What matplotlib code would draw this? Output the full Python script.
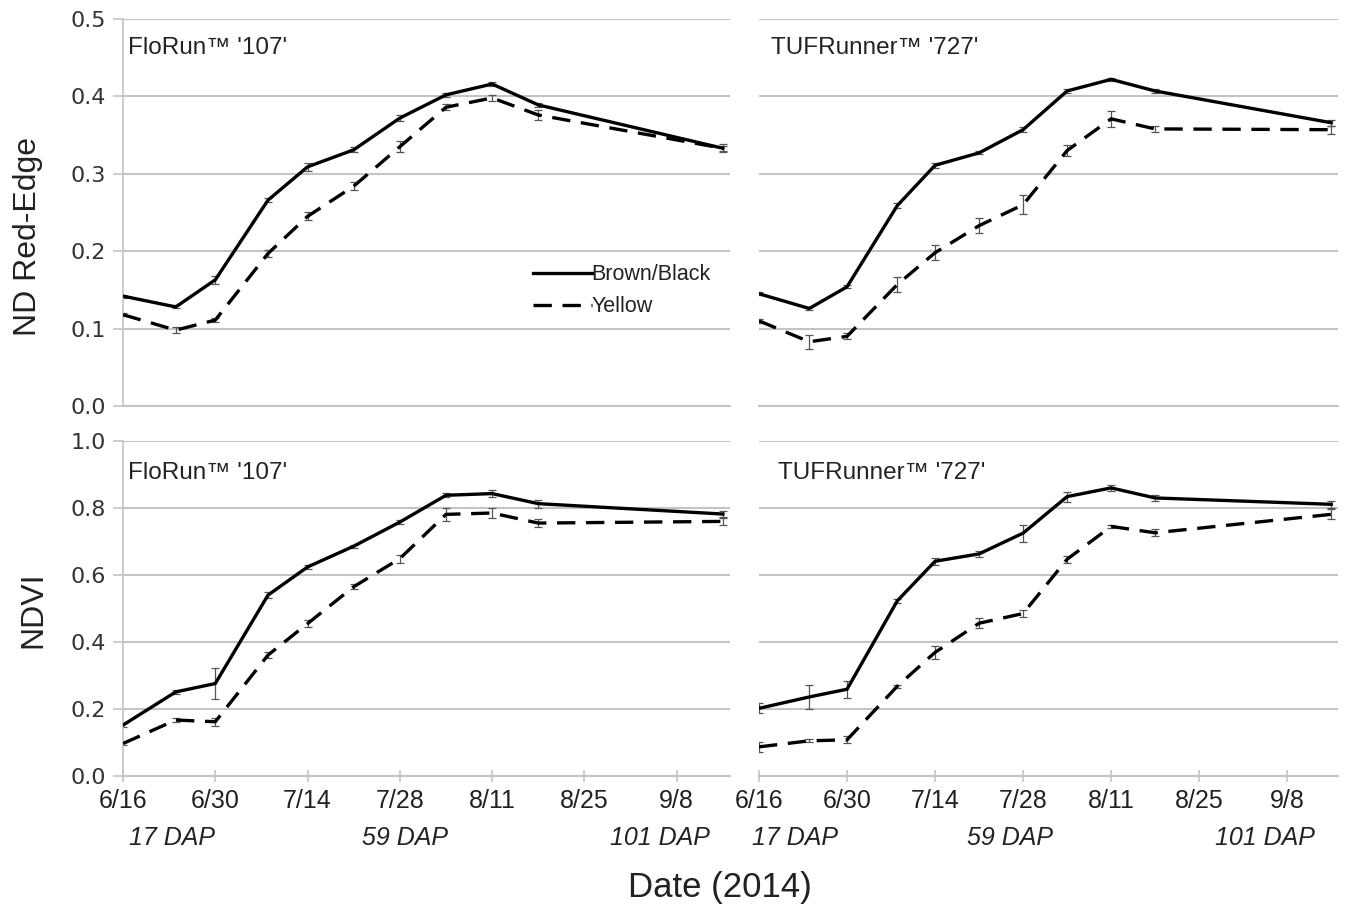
import numpy as np
import pandas as pd
import matplotlib
matplotlib.use('Agg')
import matplotlib.pyplot as plt
import matplotlib.dates as mdates
import matplotlib.transforms as mtransforms

plt.rcParams['font.family'] = ['Liberation Sans', 'DejaVu Sans']

dates = pd.to_datetime(['2014-06-16', '2014-06-24', '2014-06-30', '2014-07-08', '2014-07-14',
                        '2014-07-21', '2014-07-28', '2014-08-04', '2014-08-11', '2014-08-18',
                        '2014-09-15'])
tick_dates = pd.date_range('2014-06-16', periods=7, freq='14D')

# ND Red-Edge
re_107_bb = [0.142, 0.128, 0.163, 0.266, 0.309, 0.331, 0.372, 0.402, 0.416, 0.389, 0.333]
re_107_bb_err = [0.002, 0.002, 0.005, 0.003, 0.005, 0.003, 0.004, 0.003, 0.002, 0.003, 0.003]
re_107_y = [0.118, 0.098, 0.111, 0.197, 0.245, 0.284, 0.335, 0.386, 0.398, 0.376, 0.333]
re_107_y_err = [0.002, 0.004, 0.003, 0.005, 0.005, 0.005, 0.007, 0.004, 0.004, 0.006, 0.005]
re_727_bb = [0.145, 0.126, 0.154, 0.259, 0.311, 0.327, 0.357, 0.407, 0.422, 0.407, 0.366]
re_727_bb_err = [0.002, 0.002, 0.002, 0.003, 0.003, 0.002, 0.003, 0.003, 0.002, 0.002, 0.004]
re_727_y = [0.110, 0.083, 0.090, 0.157, 0.198, 0.233, 0.260, 0.330, 0.371, 0.358, 0.357]
re_727_y_err = [0.003, 0.009, 0.004, 0.010, 0.010, 0.010, 0.012, 0.007, 0.010, 0.004, 0.005]

# NDVI
nd_107_bb = [0.152, 0.251, 0.276, 0.540, 0.624, 0.686, 0.758, 0.838, 0.843, 0.813, 0.782]
nd_107_bb_err = [0.005, 0.005, 0.045, 0.008, 0.005, 0.005, 0.006, 0.006, 0.010, 0.012, 0.010]
nd_107_y = [0.097, 0.167, 0.162, 0.361, 0.455, 0.565, 0.649, 0.781, 0.785, 0.755, 0.760]
nd_107_y_err = [0.004, 0.005, 0.012, 0.008, 0.010, 0.008, 0.012, 0.020, 0.015, 0.012, 0.010]
nd_727_bb = [0.202, 0.236, 0.259, 0.523, 0.641, 0.663, 0.725, 0.834, 0.860, 0.830, 0.811]
nd_727_bb_err = [0.015, 0.035, 0.025, 0.006, 0.010, 0.010, 0.025, 0.015, 0.008, 0.010, 0.010]
nd_727_y = [0.087, 0.105, 0.108, 0.268, 0.369, 0.456, 0.485, 0.647, 0.745, 0.726, 0.781]
nd_727_y_err = [0.015, 0.004, 0.010, 0.005, 0.020, 0.015, 0.010, 0.010, 0.004, 0.010, 0.015]

dap_labels = ['17 DAP', '59 DAP', '101 DAP']
panels = [
    (re_107_bb, re_107_bb_err, re_107_y, re_107_y_err, "FloRun\u2122 '107'"),
    (re_727_bb, re_727_bb_err, re_727_y, re_727_y_err, "TUFRunner\u2122 '727'"),
    (nd_107_bb, nd_107_bb_err, nd_107_y, nd_107_y_err, "FloRun\u2122 '107'"),
    (nd_727_bb, nd_727_bb_err, nd_727_y, nd_727_y_err, "TUFRunner\u2122 '727'"),
]

fig = plt.figure(figsize=(13.5, 9.14), dpi=100)
W, H = 1350, 914


def px_axes(x0, x1, ytop, ybot):
    return fig.add_axes([x0 / W, 1 - ybot / H, (x1 - x0) / W, (ybot - ytop) / H])


axes = [px_axes(123, 730, 19, 406), px_axes(759, 1338, 19, 406),
        px_axes(123, 730, 441, 776), px_axes(759, 1338, 441, 776)]

grid_c = '#c4c4c4'
text_c = '#222222'
x0 = pd.Timestamp('2014-06-16')
x1 = pd.Timestamp('2014-09-16 02:00')
dap_days = [[7.5, 42.8, 81.5], [5.7, 39.9, 80.4]]
title_pos = [(0.008, 0.925), (0.02, 0.925), (0.008, 0.905), (0.032, 0.905)]

for i, (ax, (bb, bb_err, yl, yl_err, title)) in enumerate(zip(axes, panels)):
    top = i < 2
    left = i % 2 == 0
    ax.errorbar(dates, bb, yerr=bb_err, fmt='none', ecolor='#555555', elinewidth=0.9,
                capsize=3, capthick=0.9, zorder=2)
    ax.errorbar(dates, yl, yerr=yl_err, fmt='none', ecolor='#555555', elinewidth=0.9,
                capsize=3, capthick=0.9, zorder=2)
    ax.plot(dates, bb, color='black', lw=2.4, label='Brown/Black', zorder=3)
    ax.plot(dates, yl, color='black', lw=2.4, ls=(0, (5.5, 3.2)), label='Yellow', zorder=3)

    ymax = 0.5 if top else 1.0
    ax.set_ylim(0, ymax)
    ax.set_yticks(np.linspace(0, ymax, 6))
    ax.set_xlim(x0, x1)
    ax.set_xticks(tick_dates)
    ax.grid(axis='y', color=grid_c, lw=1.5)
    ax.set_axisbelow(True)
    for s in ['top', 'right']:
        ax.spines[s].set_visible(False)
    ax.spines['bottom'].set_color(grid_c)
    ax.spines['bottom'].set_linewidth(1.5)
    ax.spines['left'].set_color(grid_c)
    ax.spines['left'].set_linewidth(1.2)
    ax.tick_params(axis='x', direction='inout', length=8, color=grid_c, width=1.2,
                   labelsize=18, labelcolor=text_c, pad=5)
    ax.tick_params(axis='y', direction='out', length=7, color=grid_c, width=1.2,
                   labelsize=16, labelcolor='#333333', pad=5)
    for lab in ax.get_yticklabels():
        lab.set_family('DejaVu Sans')
    ax.yaxis.set_major_formatter(plt.FormatStrFormatter('%.1f'))
    ax.xaxis.set_major_formatter(mdates.DateFormatter('%-m/%-d'))
    if not left:
        ax.spines['left'].set_visible(False)
        ax.tick_params(axis='y', labelleft=False, length=0)
    if top:
        ax.tick_params(axis='x', labelbottom=False, length=0)
    else:
        trans = mtransforms.blended_transform_factory(ax.transData, ax.transAxes)
        for lab, d in zip(dap_labels, dap_days[i % 2]):
            ax.text(x0 + pd.Timedelta(days=d), -0.185, lab, transform=trans, ha='center',
                    va='center', fontsize=18, style='italic', color=text_c)
    tx, ty = title_pos[i]
    ax.text(tx, ty, title, transform=ax.transAxes,
            fontsize=17.5, color=text_c, va='center')

leg = axes[0].legend(loc='upper left', bbox_to_anchor=(0.662, 0.388), frameon=False,
                     handlelength=2.7, handletextpad=0.0, labelspacing=0.5, fontsize=15.5,
                     borderaxespad=0)
for t in leg.get_texts():
    t.set_color(text_c)

fig.text(28 / W, 1 - 236 / H, 'ND Red-Edge', rotation=90, ha='center', va='center',
         fontsize=23, color=text_c)
fig.text(33 / W, 1 - 610 / H, 'NDVI', rotation=90, ha='center', va='center',
         fontsize=23, color=text_c)
fig.text(720 / W, 1 - 888 / H, 'Date (2014)', ha='center', va='center',
         fontsize=25, color=text_c)

fig.savefig('out.png', dpi=100)
